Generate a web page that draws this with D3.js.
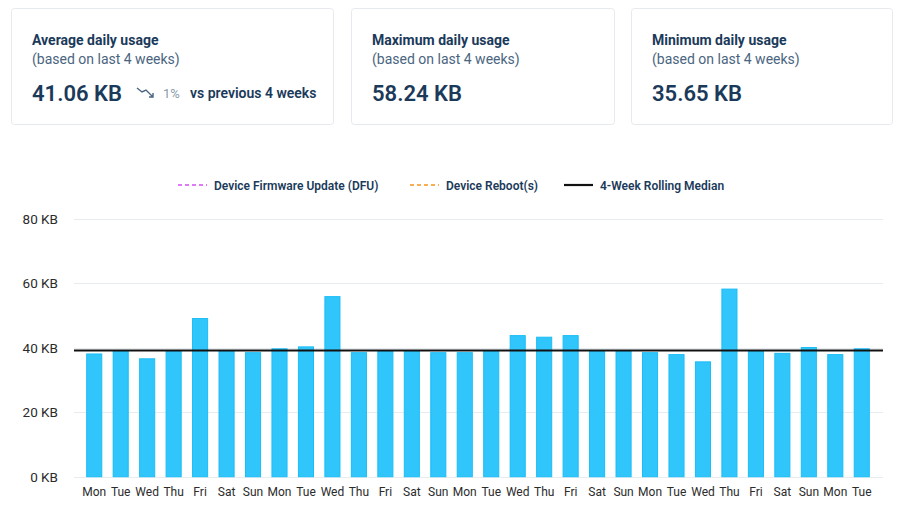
<!DOCTYPE html>
<html>
<head>
<meta charset="utf-8">
<script src="https://cdn.jsdelivr.net/npm/d3@7"></script>
<style>
  html, body { margin: 0; padding: 0; background: #fff; }
  svg { display: block; font-family: Roboto, "Noto Sans", sans-serif; }
</style>
</head>
<body>
<svg id="chart" width="900" height="516"></svg>
<script>
// ---- Data ----
const days = ["Mon","Tue","Wed","Thu","Fri","Sat","Sun","Mon","Tue","Wed","Thu","Fri","Sat","Sun",
              "Mon","Tue","Wed","Thu","Fri","Sat","Sun","Mon","Tue","Wed","Thu","Fri","Sat","Sun","Mon","Tue"];
const usageKB = [38.1, 39.1, 36.6, 39.1, 49.1, 39.1, 38.5, 39.7, 40.3, 55.9, 38.5, 39.1, 39.1, 38.5,
                 38.5, 39.1, 43.8, 43.3, 43.8, 39.1, 39.1, 38.5, 37.9, 35.65, 58.24, 39.1, 38.3, 40.1, 37.9, 39.7];
const rollingMedianKB = 39.2;
const yTicks = [0, 20, 40, 60, 80];
const cards = [
  { title: "Average daily usage", sub: "(based on last 4 weeks)", value: "41.06 KB", change: "1%", changeText: "vs previous 4 weeks" },
  { title: "Maximum daily usage", sub: "(based on last 4 weeks)", value: "58.24 KB" },
  { title: "Minimum daily usage", sub: "(based on last 4 weeks)", value: "35.65 KB" }
];
const legendItems = [
  { label: "Device Firmware Update (DFU)", color: "#d34ff0", dash: "4,3" },
  { label: "Device Reboot(s)", color: "#f7941d", dash: "4,3" },
  { label: "4-Week Rolling Median", color: "#111111", dash: null }
];

const svg = d3.select("#chart");
const navy = "#1b3a5a";

// ---- Cards ----
const cardBoxes = [[11, 333], [351, 614], [631, 892]];
cards.forEach((c, i) => {
  const [x0, x1] = cardBoxes[i];
  const g = svg.append("g");
  g.append("rect").attr("x", x0 + 0.5).attr("y", 8.5).attr("width", x1 - x0).attr("height", 116)
    .attr("rx", 3).attr("fill", "#fff").attr("stroke", "#e6e9ed");
  const tx = x0 + 21;
  g.append("text").attr("x", tx).attr("y", 45).attr("fill", navy)
    .attr("font-size", 14).attr("font-weight", 700).text(c.title);
  g.append("text").attr("x", tx).attr("y", 64).attr("fill", "#4a6580")
    .attr("font-size", 14).attr("font-weight", 400).text(c.sub);
  g.append("text").attr("x", tx).attr("y", 101).attr("fill", navy)
    .attr("font-size", 22).attr("font-weight", 600).text(c.value);
  if (c.change) {
    // downward trend arrow
    g.append("path").attr("d", "M137,88 L142,92 L146,90 L153,97 M149,97 L153,97 L153,93")
      .attr("fill", "none").attr("stroke", "#4a6580").attr("stroke-width", 1.4);
    g.append("text").attr("x", 163).attr("y", 98).attr("fill", "#8a9bab")
      .attr("font-size", 13).text(c.change);
    g.append("text").attr("x", 190).attr("y", 98).attr("fill", navy)
      .attr("font-size", 14).attr("font-weight", 600).text(c.changeText);
  }
});

// ---- Legend ----
const legendX = [178, 410, 564];
legendItems.forEach((d, i) => {
  const g = svg.append("g").attr("transform", `translate(${legendX[i]},185)`);
  g.append("line").attr("x1", 0).attr("x2", 29).attr("y1", 0).attr("y2", 0)
    .attr("stroke", d.color).attr("stroke-width", d.dash ? 1.6 : 2.2)
    .attr("stroke-dasharray", d.dash);
  g.append("text").attr("x", 36).attr("y", 4.5).attr("fill", navy)
    .attr("font-size", 12).attr("font-weight", 600).text(d.label);
});

// ---- Chart ----
const gridX0 = 74, gridX1 = 883;
const x = d3.scaleBand().domain(d3.range(days.length)).range([81, 875]).paddingInner(0.43).paddingOuter(0.215);
const y = d3.scaleLinear().domain([0, 80]).range([476.7, 219]);

// gridlines
svg.append("g").selectAll("line").data(yTicks).join("line")
  .attr("x1", gridX0).attr("x2", gridX1)
  .attr("y1", d => Math.round(y(d)) + 0.5).attr("y2", d => Math.round(y(d)) + 0.5)
  .attr("stroke", "#e7ecf1").attr("stroke-width", 1);

// y axis labels
const yAxis = d3.axisLeft(y).tickValues(yTicks).tickSize(0).tickPadding(0).tickFormat(d => d + " KB");
const yg = svg.append("g").attr("transform", "translate(58,0)").call(yAxis);
yg.select(".domain").remove();
yg.selectAll("text").attr("font-size", 13.5).attr("fill", "#2b2b2b").attr("font-family", "Roboto, sans-serif");

// bars
svg.append("g").selectAll("rect").data(usageKB).join("rect")
  .attr("x", (d, i) => x(i))
  .attr("width", x.bandwidth())
  .attr("y", d => y(d))
  .attr("height", d => y(0) - y(d))
  .attr("fill", "#30c6fc")
  .attr("stroke", "#1bbdf6")
  .attr("stroke-width", 1);

// x axis labels
const xAxis = d3.axisBottom(x).tickSize(0).tickPadding(0).tickFormat(i => days[i]);
const xg = svg.append("g").attr("transform", "translate(0,487)").call(xAxis);
xg.select(".domain").remove();
xg.selectAll("text").attr("font-size", 12).attr("fill", "#2b2b2b").attr("font-family", "Roboto, sans-serif");

// rolling median line
svg.append("line")
  .attr("x1", gridX0).attr("x2", gridX1)
  .attr("y1", y(rollingMedianKB)).attr("y2", y(rollingMedianKB))
  .attr("stroke", "#111").attr("stroke-width", 2);
</script>
</body>
</html>
